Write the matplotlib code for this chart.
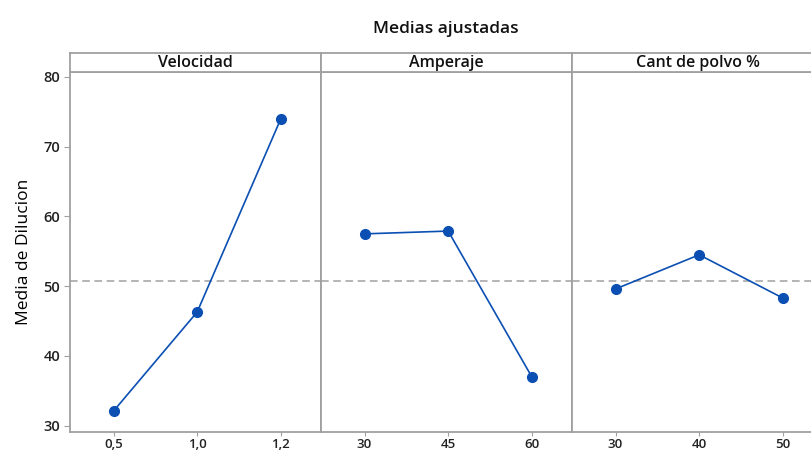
import matplotlib
matplotlib.use("Agg")
import matplotlib.pyplot as plt

plt.rcParams['font.family'] = ['Open Sans', 'DejaVu Sans']

factors = ["Velocidad", "Amperaje", "Cant de polvo %"]
levels = [["0,5", "1,0", "1,2"], ["30", "45", "60"], ["30", "40", "50"]]
means = [[32.1, 46.3, 74.0], [57.5, 57.9, 37.0], [49.6, 54.5, 48.3]]
overall_mean = 50.8
yticks = [30, 40, 50, 60, 70, 80]

W, H = 812, 454
fig = plt.figure(figsize=(W / 100, H / 100), dpi=100)

gray = '#a0a0a0'
blue = '#0b4fb3'
left_px, panel_w = 70, 251
top_px, strip_h, bottom_px = 72, 19, 432

axes = []
for i in range(3):
    x0 = (left_px + i * panel_w) / W
    ax = fig.add_axes([x0, 1 - bottom_px / H, panel_w / W, (bottom_px - top_px) / H],
                      sharey=axes[0] if axes else None)
    axes.append(ax)
    xs = list(range(len(levels[i])))
    ax.axhline(overall_mean, color=gray, ls=(0, (5, 3)), lw=1.1, zorder=1)
    ax.plot(xs, means[i], color=blue, lw=1.2, marker='o', ms=7, zorder=3)
    ax.set_xlim(-0.52, 2.48)
    ax.set_xticks(xs)
    ax.set_xticklabels(levels[i], fontsize=9.5, fontweight='semibold', color='#222222')
    for s in ax.spines.values():
        s.set_color(gray)
        s.set_linewidth(1.3)
    ax.tick_params(axis='x', length=3, color=gray, pad=1)
    if i == 0:
        ax.set_ylim(29.1, 80.7)
        ax.set_yticks(yticks)
        ax.set_yticklabels([str(t) for t in yticks], fontsize=10.5, fontweight='semibold', color='#222222')
        ax.tick_params(axis='y', length=4, color=gray, pad=3)
        ax.set_ylabel("Media de Dilucion", fontsize=12.5, labelpad=8)
    else:
        ax.tick_params(axis='y', left=False, labelleft=False)

    # strip header
    sax = fig.add_axes([x0, 1 - top_px / H, panel_w / W, strip_h / H])
    sax.set_xticks([])
    sax.set_yticks([])
    for s in sax.spines.values():
        s.set_color(gray)
        s.set_linewidth(1.3)
    sax.text(0.5, 0.45, factors[i], ha='center', va='center', fontsize=11.5,
             fontweight='semibold', color='#111111', transform=sax.transAxes)

fig.text(446 / W, 1 - 29 / H, "Medias ajustadas", ha='center', va='center', fontsize=12.5,
         fontweight='semibold', color='#111111')

fig.savefig("out.png", dpi=100)
